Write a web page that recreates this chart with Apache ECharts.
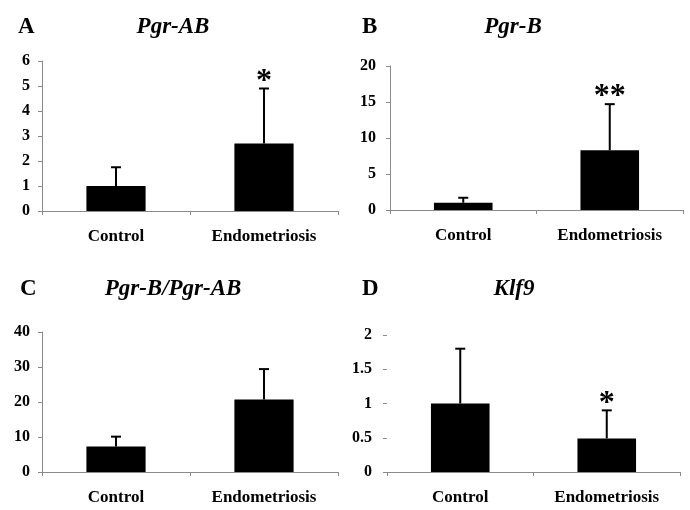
<!DOCTYPE html>
<html>
<head>
<meta charset="utf-8">
<script src="https://cdn.jsdelivr.net/npm/echarts@6/dist/echarts.min.js"></script>
<style>
  html, body { margin: 0; padding: 0; background: #fff; }
  #chart { width: 690px; height: 510px; }
</style>
</head>
<body>
<div id="chart"></div>
<script>
// data
const categories = ['Control', 'Endometriosis']

const pgrAB = [1.0, 2.7]
const pgrABErr = [1.75, 4.9]
const pgrABStars = ['', '*']

const pgrB = [1.0, 8.3]
const pgrBErr = [1.7, 14.7]
const pgrBStars = ['', '**']

const ratio = [7.3, 20.7]
const ratioErr = [10.1, 29.4]
const ratioStars = ['', '']

const klf9 = [1.0, 0.49]
const klf9Err = [1.8, 0.9]
const klf9Stars = ['', '*']

const panels = [
  { letter: 'A', name: 'Pgr-AB', values: pgrAB, err: pgrABErr, stars: pgrABStars, max: 6, interval: 1 },
  { letter: 'B', name: 'Pgr-B', values: pgrB, err: pgrBErr, stars: pgrBStars, max: 20, interval: 5 },
  { letter: 'C', name: 'Pgr-B/Pgr-AB', values: ratio, err: ratioErr, stars: ratioStars, max: 40, interval: 10 },
  { letter: 'D', name: 'Klf9', values: klf9, err: klf9Err, stars: klf9Stars, max: 2, interval: 0.5, noYLine: true }
]

const FONT = '"Liberation Serif", "Times New Roman", serif'
const AXIS_GRAY = '#8a8a8a'

const grids = [
  { left: 42, top: 61, width: 296, height: 150 },
  { left: 390, top: 66, width: 293, height: 144 },
  { left: 42, top: 332, width: 296, height: 140 },
  { left: 387, top: 335, width: 293, height: 137 }
]

const titlePos = [
  { lx: 18, nx: 173, y: 16, margin: 12 },
  { lx: 362, nx: 513, y: 16, margin: 14 },
  { lx: 20, nx: 173, y: 278, margin: 12 },
  { lx: 362, nx: 514, y: 278, margin: 15 }
]

const chart = echarts.init(document.getElementById('chart'))

const title = []
const xAxis = []
const yAxis = []
const series = []

panels.forEach((p, i) => {
  const t = titlePos[i]
  title.push({
    text: p.letter, left: t.lx, top: t.y, padding: 0,
    textStyle: { fontFamily: FONT, fontWeight: 'bold', fontSize: 23, color: '#000' }
  })
  title.push({
    text: p.name, left: t.nx, top: t.y, padding: 0, textAlign: 'center',
    textStyle: { fontFamily: FONT, fontWeight: 'bold', fontStyle: 'italic', fontSize: 23, color: '#000' }
  })
  xAxis.push({
    type: 'category',
    gridIndex: i,
    data: categories,
    axisLine: { lineStyle: { color: AXIS_GRAY, width: 1 } },
    axisTick: { show: true, length: 4, lineStyle: { color: AXIS_GRAY } },
    axisLabel: { fontFamily: FONT, fontWeight: 'bold', fontSize: 17, color: '#000', margin: 17 }
  })
  yAxis.push({
    type: 'value',
    gridIndex: i,
    min: 0,
    max: p.max,
    interval: p.interval,
    splitLine: { show: false },
    axisLine: { show: !p.noYLine, lineStyle: { color: AXIS_GRAY, width: 1 } },
    axisTick: { show: true, length: 4, lineStyle: { color: AXIS_GRAY } },
    axisLabel: { fontFamily: FONT, fontWeight: 'bold', fontSize: 16, color: '#000', margin: t.margin }
  })
  series.push({
    type: 'bar',
    xAxisIndex: i,
    yAxisIndex: i,
    barWidth: '40%',
    itemStyle: { color: '#000' },
    data: p.values
  })
  // error bar + significance stars
  series.push({
    type: 'custom',
    xAxisIndex: i,
    yAxisIndex: i,
    z: 3,
    data: categories.map((c, k) => [k, p.values[k], p.err[k]]),
    renderItem: (params, api) => {
      const base = api.coord([api.value(0), api.value(1)])
      const top = api.coord([api.value(0), api.value(2)])
      const star = p.stars[params.dataIndex]
      const children = [
        { type: 'line', shape: { x1: base[0], y1: base[1], x2: top[0], y2: top[1] },
          style: { stroke: '#000', lineWidth: 2 } },
        { type: 'line', shape: { x1: top[0] - 5, y1: top[1], x2: top[0] + 5, y2: top[1] },
          style: { stroke: '#000', lineWidth: 2 } }
      ]
      if (star) {
        children.push({
          type: 'text',
          x: top[0], y: top[1] - 7,
          style: {
            text: star, fontFamily: FONT, fontWeight: 'bold', fontSize: 32, fill: '#000',
            align: 'center', verticalAlign: 'middle'
          }
        })
      }
      return { type: 'group', children }
    }
  })
})

chart.setOption({
  animation: false,
  backgroundColor: '#fff',
  title,
  grid: grids,
  xAxis,
  yAxis,
  series
})
</script>
</body>
</html>
